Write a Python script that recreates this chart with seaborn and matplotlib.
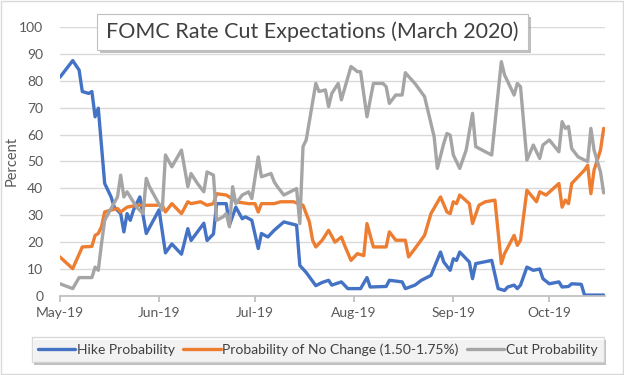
import pandas as pd
import matplotlib.pyplot as plt
import matplotlib.dates as mdates
import matplotlib.patheffects as pe
from matplotlib.patches import Rectangle
import seaborn as sns

# values (percent)
hike_dates = ["2019-05-01", "2019-05-05", "2019-05-07", "2019-05-08", "2019-05-10", "2019-05-11",
              "2019-05-12", "2019-05-13", "2019-05-15", "2019-05-17", "2019-05-18", "2019-05-20",
              "2019-05-21", "2019-05-22", "2019-05-23", "2019-05-24", "2019-05-26", "2019-05-28",
              "2019-06-01", "2019-06-03", "2019-06-05", "2019-06-08", "2019-06-10", "2019-06-11",
              "2019-06-13", "2019-06-15", "2019-06-16", "2019-06-18", "2019-06-19", "2019-06-22",
              "2019-06-23", "2019-06-25", "2019-06-27", "2019-06-28", "2019-06-30", "2019-07-02",
              "2019-07-03", "2019-07-05", "2019-07-07", "2019-07-10", "2019-07-12", "2019-07-14",
              "2019-07-15", "2019-07-17", "2019-07-20", "2019-07-22", "2019-07-24", "2019-07-25",
              "2019-07-28", "2019-07-30", "2019-08-03", "2019-08-05", "2019-08-06", "2019-08-11",
              "2019-08-12", "2019-08-16", "2019-08-17", "2019-08-20", "2019-08-22", "2019-08-25",
              "2019-08-28", "2019-08-29", "2019-08-31", "2019-09-01", "2019-09-02", "2019-09-03",
              "2019-09-06", "2019-09-07", "2019-09-08", "2019-09-13", "2019-09-15", "2019-09-17",
              "2019-09-18", "2019-09-20", "2019-09-21", "2019-09-22", "2019-09-24", "2019-09-26",
              "2019-09-28", "2019-09-29", "2019-10-01", "2019-10-04", "2019-10-05", "2019-10-07",
              "2019-10-08", "2019-10-11", "2019-10-12", "2019-10-18"]
hike_vals = [81.3, 87.5, 84, 76, 75.3, 76,
             66.6, 69.8, 41.8, 36.8, 33, 30.6,
             23.8, 30.6, 28.1, 31.9, 36.8, 23.2,
             32, 16, 19.3, 15.5, 25, 20.6,
             23.8, 27, 20.6, 23, 34.3, 34.3,
             26.3, 33, 28.7, 29.4, 28.1, 17.6,
             23.2, 21.9, 24.4, 27.5, 26.9, 26.3,
             11.3, 8.7, 3.8, 5, 5.8, 4,
             5.2, 2.7, 2.7, 6.8, 3.3, 3.5,
             5.8, 5.2, 2.7, 4, 5.8, 7.6,
             16.3, 12.6, 9.5, 13.8, 13.2, 16.3,
             12.6, 6.4, 12, 13.2, 2.7, 2,
             3.3, 4, 2.7, 4, 10.7, 9.5,
             10, 6.4, 4.5, 5.2, 3.3, 3.5,
             4.5, 4.3, 0.3, 0.3]

hold_dates = ["2019-05-01", "2019-05-05", "2019-05-08", "2019-05-11", "2019-05-12", "2019-05-13",
              "2019-05-14", "2019-05-15", "2019-05-17", "2019-05-19", "2019-05-20", "2019-05-22",
              "2019-05-25", "2019-06-02", "2019-06-03", "2019-06-05", "2019-06-08", "2019-06-10",
              "2019-06-11", "2019-06-14", "2019-06-16", "2019-06-18", "2019-06-19", "2019-06-22",
              "2019-06-24", "2019-06-25", "2019-06-29", "2019-07-01", "2019-07-02", "2019-07-03",
              "2019-07-07", "2019-07-09", "2019-07-13", "2019-07-16", "2019-07-18", "2019-07-19",
              "2019-07-20", "2019-07-22", "2019-07-24", "2019-07-26", "2019-07-28", "2019-07-29",
              "2019-07-31", "2019-08-02", "2019-08-04", "2019-08-05", "2019-08-07", "2019-08-11",
              "2019-08-12", "2019-08-14", "2019-08-17", "2019-08-18", "2019-08-20", "2019-08-23",
              "2019-08-25", "2019-08-28", "2019-08-30", "2019-08-31", "2019-09-01", "2019-09-02",
              "2019-09-03", "2019-09-06", "2019-09-07", "2019-09-09", "2019-09-11", "2019-09-14",
              "2019-09-16", "2019-09-17", "2019-09-20", "2019-09-21", "2019-09-22", "2019-09-24",
              "2019-09-27", "2019-09-28", "2019-09-30", "2019-10-04", "2019-10-05", "2019-10-06",
              "2019-10-07", "2019-10-08", "2019-10-10", "2019-10-12", "2019-10-13", "2019-10-14",
              "2019-10-15", "2019-10-17", "2019-10-18"]
hold_vals = [14.5, 10.1, 18.2, 18.4, 22.5, 23.2,
             25.7, 31.2, 31.9, 32.5, 31.2, 33,
             33.7, 33.7, 31.2, 34.3, 30.6, 35,
             34.3, 35, 33.7, 34.3, 38, 37.5,
             36, 35, 34.3, 34.3, 31.2, 34.3,
             34.3, 35, 35, 33.7, 27.5, 20.7,
             18.2, 20.7, 24.4, 20, 21.9, 18.8,
             13.2, 15.7, 15, 26.9, 18.2, 18.2,
             23.8, 20.7, 20.7, 14.5, 17.6, 22.5,
             30.6, 36.8, 31.2, 30.6, 35, 34.3,
             37.5, 34.3, 26.9, 33.7, 35, 35.6,
             12, 15.7, 22.5, 18.8, 20.7, 39.3,
             35, 38.7, 37.5, 41.8, 33, 35.6,
             34.3, 41.8, 44.3, 46.8, 48.6, 38,
             46.8, 54.2, 62.3]

cut_dates = ["2019-05-01", "2019-05-05", "2019-05-07", "2019-05-11", "2019-05-12", "2019-05-13",
             "2019-05-14", "2019-05-15", "2019-05-17", "2019-05-19", "2019-05-20", "2019-05-21",
             "2019-05-22", "2019-05-25", "2019-05-27", "2019-05-28", "2019-05-29", "2019-06-02",
             "2019-06-03", "2019-06-05", "2019-06-08", "2019-06-10", "2019-06-11", "2019-06-13",
             "2019-06-15", "2019-06-16", "2019-06-18", "2019-06-19", "2019-06-21", "2019-06-22",
             "2019-06-23", "2019-06-24", "2019-06-25", "2019-06-27", "2019-06-29", "2019-06-30",
             "2019-07-02", "2019-07-03", "2019-07-06", "2019-07-07", "2019-07-08", "2019-07-10",
             "2019-07-12", "2019-07-14", "2019-07-15", "2019-07-16", "2019-07-17", "2019-07-20",
             "2019-07-21", "2019-07-23", "2019-07-24", "2019-07-25", "2019-07-27", "2019-07-28",
             "2019-07-31", "2019-08-02", "2019-08-03", "2019-08-05", "2019-08-07", "2019-08-10",
             "2019-08-11", "2019-08-12", "2019-08-14", "2019-08-16", "2019-08-17", "2019-08-18",
             "2019-08-20", "2019-08-23", "2019-08-24", "2019-08-26", "2019-08-27", "2019-08-29",
             "2019-08-30", "2019-08-31", "2019-09-01", "2019-09-03", "2019-09-05", "2019-09-07",
             "2019-09-08", "2019-09-11", "2019-09-13", "2019-09-16", "2019-09-17", "2019-09-20",
             "2019-09-21", "2019-09-22", "2019-09-24", "2019-09-26", "2019-09-28", "2019-09-29",
             "2019-10-01", "2019-10-04", "2019-10-05", "2019-10-06", "2019-10-07", "2019-10-08",
             "2019-10-10", "2019-10-12", "2019-10-13", "2019-10-14", "2019-10-15", "2019-10-17",
             "2019-10-18"]
cut_vals = [4.5, 2.7, 6.8, 6.8, 10.7, 9.5,
            19.4, 28.1, 32.5, 36.8, 44.9, 36.8,
            38.7, 33, 30.6, 43.7, 40.6, 31.9,
            52.4, 48, 54.2, 40.6, 45.5, 41.8,
            38.7, 46.1, 44.9, 28.1, 29.4, 30.6,
            25.7, 40.6, 34.3, 37.5, 38.7, 36.2,
            51.7, 44.3, 45.5, 42.4, 40.6, 37.5,
            38.7, 39.9, 26.9, 55.5, 58, 79,
            76, 76.6, 70.4, 75.3, 79, 72.9,
            85.3, 83.4, 83.4, 66.6, 79, 79,
            77.8, 71.6, 74.7, 74.7, 83, 81.6,
            79, 74.1, 69.1, 59.2, 47.4, 56.7,
            60.4, 59.8, 52.4, 47.4, 54.2, 67.9,
            55.5, 53.6, 52.4, 87.1, 82.2, 74.7,
            79, 77.8, 50.5, 56.1, 51.1, 56.1,
            58, 53.6, 64.8, 62.3, 63, 54.8,
            51.7, 50.5, 50, 62.3, 54.2, 46.1,
            38.3]

series_names = ["Hike Probability", "Probability of No Change (1.50-1.75%)", "Cut Probability"]
series_colors = ["#4472C4", "#ED7D31", "#A5A5A5"]

frames = []
for name, d, v in zip(series_names, [hike_dates, hold_dates, cut_dates], [hike_vals, hold_vals, cut_vals]):
    frames.append(pd.DataFrame({"date": pd.to_datetime(d), "value": v, "series": name}))
df = pd.concat(frames, ignore_index=True)

sns.set_theme(style="white")
plt.rcParams["font.family"] = ["Lato", "DejaVu Sans"]

fig = plt.figure(figsize=(6.24, 3.75), dpi=100)
ax = fig.add_axes([0.096, 0.211, 0.874, 0.717])

sns.lineplot(data=df, x="date", y="value", hue="series", hue_order=series_names,
             palette=series_colors, estimator=None, linewidth=2.4, legend=False, ax=ax)

ax.set_ylim(0, 100)
ax.set_yticks(range(0, 101, 10))
ax.set_xlim(pd.Timestamp("2019-05-01"), pd.Timestamp("2019-10-18 12:00"))
ax.xaxis.set_major_locator(mdates.MonthLocator())
ax.xaxis.set_major_formatter(mdates.DateFormatter("%b-%y"))
ax.grid(axis="y", color="#D9D9D9", linewidth=1)
ax.set_axisbelow(True)
for s in ["top", "right", "left"]:
    ax.spines[s].set_visible(False)
ax.spines["bottom"].set_color("#BFBFBF")
ax.tick_params(axis="x", which="major", bottom=True, length=4, color="#BFBFBF",
               labelsize=10, labelcolor="#595959", pad=4)
ax.tick_params(axis="y", left=False, labelsize=10, labelcolor="#595959", pad=6)
ax.set_xlabel("")
ax.set_ylabel("Percent", fontsize=10.5, color="#595959")
ax.yaxis.set_label_coords(-0.075, 0.5)

# title box
tbox = Rectangle((97 / 624, 1 - 50 / 375), 431 / 624, 36 / 375, transform=fig.transFigure,
                 facecolor="white", edgecolor="#BFBFBF", linewidth=0.8, zorder=2,
                 path_effects=[pe.withSimplePatchShadow(offset=(2, -2), alpha=0.35)])
fig.patches.append(tbox)
fig.text(0.501, 1 - 32 / 375, "FOMC Rate Cut Expectations (March 2020)", ha="center", va="center",
         fontsize=15.5, color="#404040", zorder=3)

# legend box
handles = [plt.Line2D([], [], color=c, linewidth=2.4) for c in series_colors]
leg = fig.legend(handles, series_names, loc="center", bbox_to_anchor=(0.509, 0.067), ncol=3,
                 fontsize=10, frameon=True, fancybox=False, handlelength=2.7, handletextpad=0.1,
                 columnspacing=0.6, borderpad=0.45, labelcolor="#404040")
leg.get_frame().set_edgecolor("#D0D0D0")
leg.get_frame().set_path_effects([pe.withSimplePatchShadow(offset=(2, -2), alpha=0.35)])

# outer border
fig.patches.append(Rectangle((0.002, 0.003), 0.996, 0.994, transform=fig.transFigure,
                             fill=False, edgecolor="#D9D9D9", linewidth=1, zorder=0))

fig.savefig("out.png", dpi=100)
